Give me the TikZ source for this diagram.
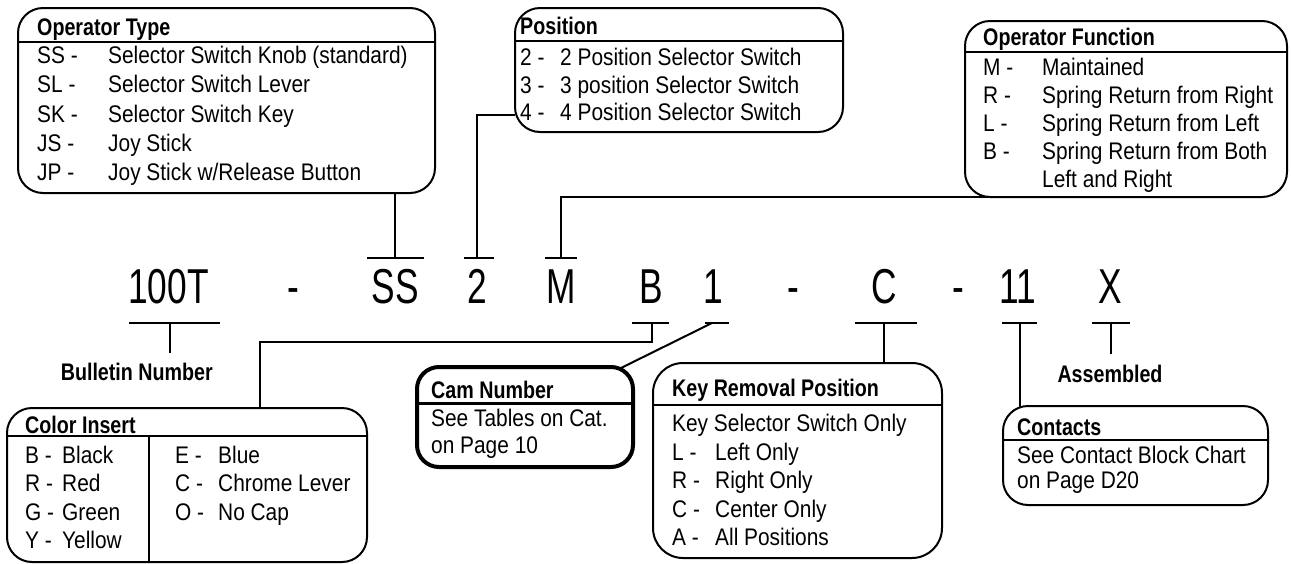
\documentclass[tikz,border=0pt]{standalone}
\usepackage{fontspec}
\setmainfont{Liberation Sans}[FakeStretch=0.87]
\newfontfamily\hdf{Liberation Sans}[FakeStretch=0.82]
\newfontfamily\bigf{Liberation Sans}[FakeStretch=0.72]
\begin{document}
\begin{tikzpicture}[x=1pt,y=-1pt,
  box/.style={draw, line width=2pt, rounded corners=25pt, inner sep=0pt, outer sep=0pt, anchor=north west},
  hd/.style={font=\hdf\fontsize{24}{24}\selectfont\bfseries, anchor=base west, inner sep=0pt},
  tx/.style={font=\fontsize{24}{24}\selectfont, anchor=base west, inner sep=0pt},
  big/.style={font=\bigf\fontsize{49}{49}\selectfont, anchor=base, inner sep=0pt},
  ln/.style={line width=2pt}]
\useasboundingbox[fill=white] (0,0) rectangle (1291,563);

% boxes
\node[box, minimum width=417pt, minimum height=185pt] (optype) at (18,8) {};
\node[box, minimum width=328pt, minimum height=124pt] (pos) at (515,8) {};
\node[box, minimum width=322pt, minimum height=176pt] (opfun) at (965,21) {};
\node[box, minimum width=360pt, minimum height=154pt] (color) at (7,408) {};
\node[box, line width=4pt, rounded corners=22pt, minimum width=216pt, minimum height=100pt] (cam) at (417,367) {};
\node[box, rounded corners=30pt, minimum width=289pt, minimum height=195pt] (key) at (653,363) {};
\node[box, minimum width=265pt, minimum height=99pt] (cont) at (1003,406) {};

% header rules
\draw[ln] (18,42) -- (435,42);
\draw[ln] (515,41) -- (843,41);
\draw[ln] (965,52) -- (1287,52);
\draw[ln] (7,436) -- (367,436);
\draw[ln] (149,436) -- (149,562);
\draw[line width=3pt] (417,403) -- (633,403);
\draw[ln] (653,405) -- (942,405);
\draw[ln] (1003,440) -- (1268,440);

% titles
\node[hd] (optype-t) at (37,35) {Operator Type};
\node[hd] (pos-t) at (520,34) {Position};
\node[hd] (opfun-t) at (983,45) {Operator Function};
\node[hd] (color-t) at (25,433) {Color Insert};
\node[hd] (cam-t) at (431,398) {Cam Number};
\node[hd] (key-t) at (672,396) {Key Removal Position};
\node[hd] (cont-t) at (1017,435) {Contacts};

% Operator Type rows
\foreach \c/\d [count=\i] in {SS -/{Selector Switch Knob (standard)}, SL -/{Selector Switch Lever}, SK -/{Selector Switch Key}, JS -/{Joy Stick}, JP -/{Joy Stick w/Release Button}}{
  \node[tx] (ot-c\i) at ({37},{63.5+29.25*(\i-1)}) {\c};
  \node[tx] (ot-d\i) at ({108},{63.5+29.25*(\i-1)}) {\d};
}
% Position rows
\foreach \c/\d [count=\i] in {2 -/{2 Position Selector Switch}, 3 -/{3 position Selector Switch}, 4 -/{4 Position Selector Switch}}{
  \node[tx] (po-c\i) at ({520},{65.5+27.5*(\i-1)}) {\c};
  \node[tx] (po-d\i) at ({560},{65.5+27.5*(\i-1)}) {\d};
}
% Operator Function rows
\foreach \c/\d [count=\i] in {M -/{Maintained}, R -/{Spring Return from Right}, L -/{Spring Return from Left}, B -/{Spring Return from Both}}{
  \node[tx] (of-c\i) at ({983},{75.5+28*(\i-1)}) {\c};
  \node[tx] (of-d\i) at ({1042},{75.5+28*(\i-1)}) {\d};
}
\node[tx] (of-d5) at (1042,187.5) {Left and Right};
% Color Insert rows
\foreach \c/\d [count=\i] in {B -/Black, R -/Red, G -/Green, Y -/Yellow}{
  \node[tx] (ci-c\i) at ({25},{463.5+28.3*(\i-1)}) {\c};
  \node[tx] (ci-d\i) at ({62},{463.5+28.3*(\i-1)}) {\d};
}
\foreach \c/\d [count=\i] in {E -/Blue, C -/{Chrome Lever}, O -/{No Cap}}{
  \node[tx] (ce-c\i) at ({175},{463.5+28.3*(\i-1)}) {\c};
  \node[tx] (ce-d\i) at ({218},{463.5+28.3*(\i-1)}) {\d};
}
% Cam Number
\node[tx] (cam-1) at (431,426.5) {See Tables on Cat.};
\node[tx] (cam-2) at (431,453.5) {on Page 10};
% Key Removal
\node[tx] (key-0) at (672,431.5) {Key Selector Switch Only};
\foreach \c/\d [count=\i] in {L -/{Left Only}, R -/{Right Only}, C -/{Center Only}, A -/{All Positions}}{
  \node[tx] (kr-c\i) at ({672},{460.5+28.3*(\i-1)}) {\c};
  \node[tx] (kr-d\i) at ({715},{460.5+28.3*(\i-1)}) {\d};
}
% Contacts
\node[tx] (cont-1) at (1017,463.5) {See Contact Block Chart};
\node[tx] (cont-2) at (1017,488.5) {on Page D20};

% catalogue number
\node[big] (n100T) at (168.5,303) {100T};
\node[big] (d1) at (293,303) {-};
\node[big] (nSS) at (395,303) {SS};
\node[big] (n2) at (477,303) {2};
\node[big] (nM) at (561,303) {M};
\node[big] (nB) at (651,303) {B};
\node[big] (n1) at (713,303) {1};
\node[big] (d2) at (793,303) {-};
\node[big] (nC) at (884,303) {C};
\node[big] (d3) at (958,303) {-};
\node[big] (n11) at (1018,303) {11};
\node[big] (nX) at (1110,303) {X};

% T bars
\draw[ln] (367,258) -- (424,258); \coordinate (tSS) at (395,258);
\draw[ln] (464,258) -- (494,258); \coordinate (t2) at (477,258);
\draw[ln] (545,258) -- (577,258); \coordinate (tM) at (561,258);
\draw[ln] (129,323) -- (220,323); \coordinate (tBul) at (170,323);
\draw[ln] (632,323) -- (669,323); \coordinate (tB) at (652,323);
\draw[ln] (705,323) -- (729,323); \coordinate (t1) at (712,323);
\draw[ln] (855,323) -- (917,323); \coordinate (tC) at (884,323);
\draw[ln] (1002,323) -- (1037,323); \coordinate (t11) at (1020,323);
\draw[ln] (1092,323) -- (1130,323); \coordinate (tX) at (1111,323);

% labels
\node[hd, anchor=base east] (bul) at (213,380) {Bulletin Number};
\node[hd, anchor=base] (asm) at (1110,382) {Assembled};

% connector end points
\coordinate (posin) at (515,115);
\coordinate (ofin) at (1022,197);
\coordinate (bulend) at (170,353);
\coordinate (bk) at (652,342);
\coordinate (cin) at (260,408);
\coordinate (camin) at (621,368);
\coordinate (contin) at (1020,407);
\coordinate (xend) at (1111,354);

% connectors
\draw[ln] (tSS) -- (tSS |- optype.south);
\draw[ln] (t2) |- (posin);
\draw[ln] (tM) |- (ofin);
\draw[ln] (tBul) -- (bulend);
\draw[ln] (tB) -- (bk) -| (cin);
\draw[ln] (t1) -- (camin);
\draw[ln] (tC) -- (tC |- key.north);
\draw[ln] (t11) -- (contin);
\draw[ln] (tX) -- (xend);
\end{tikzpicture}
\end{document}
